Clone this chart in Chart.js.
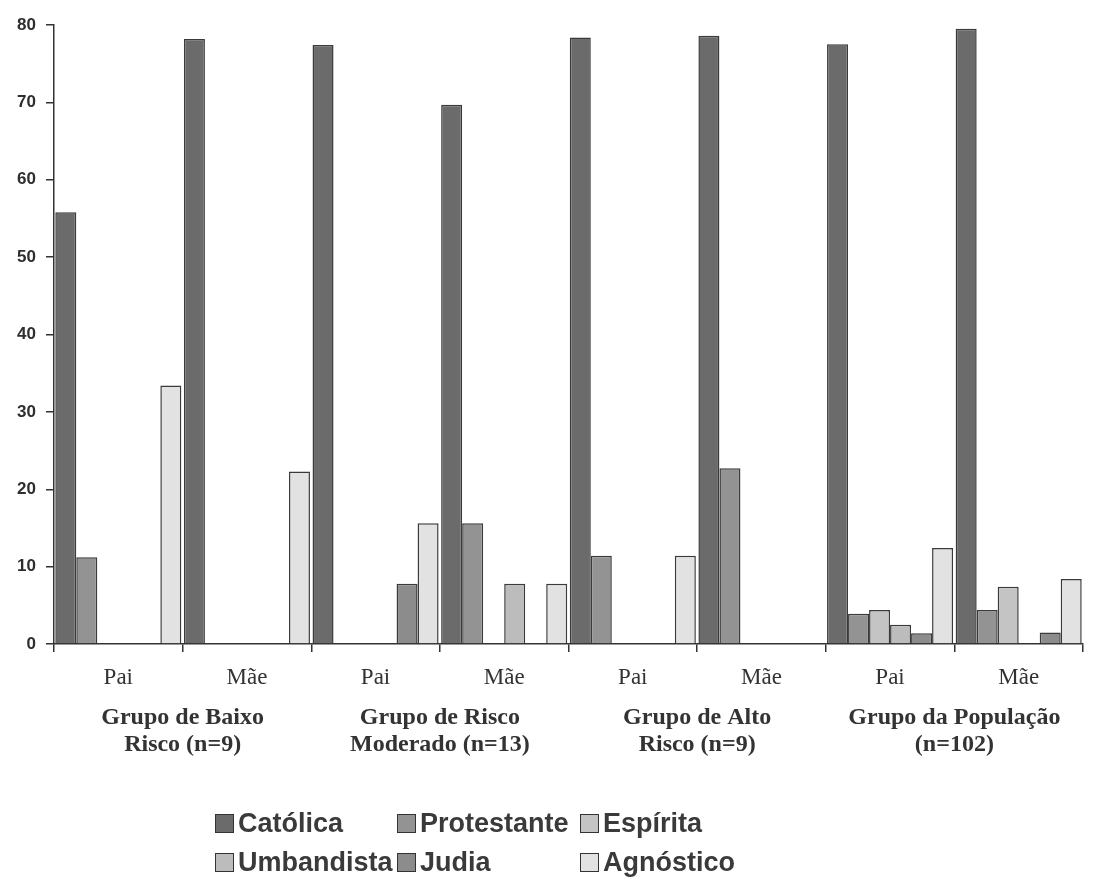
<!DOCTYPE html>
<html>
<head>
<meta charset="utf-8">
<script src="https://cdn.jsdelivr.net/npm/chart.js@4.4.1/dist/chart.umd.min.js"></script>
<style>
  html, body { margin: 0; padding: 0; background: #ffffff; }
  #wrap { position: relative; width: 1109px; height: 884px; }
  #legend {
    position: absolute; left: 215px; top: 804px;
    display: grid; grid-template-columns: 182px 183px auto;
    font-family: "Liberation Sans", Arial, sans-serif; font-weight: bold;
    font-size: 27px; color: #3a3a3a;
  }
  .item { display: flex; align-items: center; height: 39px; white-space: nowrap; }
  .box { width: 17px; height: 17px; border: 1.5px solid #333; margin-right: 4px; flex: none; }
</style>
</head>
<body>
<div id="wrap">
  <canvas id="chart" width="1109" height="884"></canvas>
  <div id="legend"></div>
</div>
<script>
// Category labels (parent) and group labels shown beneath them
const categories = ['Pai', 'Mãe', 'Pai', 'Mãe', 'Pai', 'Mãe', 'Pai', 'Mãe'];
const groups = [
  ['Grupo de Baixo', 'Risco (n=9)'],
  ['Grupo de Risco', 'Moderado (n=13)'],
  ['Grupo de Alto', 'Risco (n=9)'],
  ['Grupo da População', '(n=102)']
];

// Percentages per religion
const catolica    = [55.8, 78.2, 77.4, 69.7, 78.4, 78.6, 77.5, 79.5];
const protestante = [11.2, 0, 0, 15.6, 11.4, 22.7, 3.9, 4.4];
const espirita    = [0, 0, 0, 0, 0, 0, 4.4, 7.4];
const umbandista  = [0, 0, 0, 7.8, 0, 0, 2.5, 0];
const judia       = [0, 0, 7.8, 0, 0, 0, 1.4, 1.5];
const agnostico   = [33.4, 22.3, 15.6, 7.8, 11.4, 0, 12.4, 8.4];

const yTicks = [0, 10, 20, 30, 40, 50, 60, 70, 80];

const seriesNames = ['Católica', 'Protestante', 'Espírita', 'Umbandista', 'Judia', 'Agnóstico'];
const seriesData = [catolica, protestante, espirita, umbandista, judia, agnostico];
const seriesFill = ['#6b6b6b', '#939393', '#c4c4c4', '#bcbcbc', '#8c8c8c', '#e2e2e2'];

const datasets = seriesNames.map((name, i) => ({
  label: name,
  data: seriesData[i],
  backgroundColor: seriesFill[i],
  borderColor: '#3a3a3a',
  borderWidth: 1.5,
  categoryPercentage: 0.98,
  barPercentage: 1.0,
  xAxisID: 'x',
  yAxisID: 'y'
}));

const chart = new Chart(document.getElementById('chart'), {
  type: 'bar',
  data: { labels: categories, datasets },
  options: {
    responsive: false,
    devicePixelRatio: 1,
    animation: false,
    layout: { padding: { left: 0, right: 26, top: 25, bottom: 115 } },
    plugins: { legend: { display: false }, tooltip: { enabled: false } },
    scales: {
      y: {
        min: 0, max: 80,
        afterBuildTicks: s => { s.ticks = yTicks.map(v => ({ value: v })); },
        grid: { drawOnChartArea: false, color: '#333', tickLength: 8, lineWidth: 1.5 },
        border: { color: '#333', width: 1.5 },
        ticks: {
          padding: 10, color: '#2e2e2e',
          font: { family: '"Liberation Sans", Arial, sans-serif', size: 17, weight: 'bold' }
        },
        afterFit: s => { s.width = 54; }
      },
      x: {
        weight: 0,
        grid: { drawOnChartArea: false, color: '#333', tickLength: 8, lineWidth: 1.5, offset: true },
        border: { color: '#333', width: 1.5 },
        ticks: {
          padding: 12, color: '#333', autoSkip: false, maxRotation: 0,
          font: { family: '"Liberation Serif", "Times New Roman", serif', size: 23 }
        },
        afterFit: s => { s.height = 50; }
      },
      g: {
        type: 'category',
        labels: groups,
        position: 'bottom',
        weight: 1,
        offset: true,
        grid: { display: false, drawTicks: false },
        border: { display: false },
        ticks: {
          padding: 11, color: '#333', autoSkip: false, maxRotation: 0,
          font: { family: '"Liberation Serif", "Times New Roman", serif', size: 24, weight: 'bold', lineHeight: 1.1 }
        },
        afterFit: s => { s.height = 75; }
      }
    }
  }
});

// Legend built from the chart's datasets, laid out in three columns
const legendEl = document.getElementById('legend');
chart.data.datasets.forEach(ds => {
  const item = document.createElement('div');
  item.className = 'item';
  const box = document.createElement('span');
  box.className = 'box';
  box.style.background = ds.backgroundColor;
  const txt = document.createElement('span');
  txt.textContent = ds.label;
  item.appendChild(box);
  item.appendChild(txt);
  legendEl.appendChild(item);
});
</script>
</body>
</html>
